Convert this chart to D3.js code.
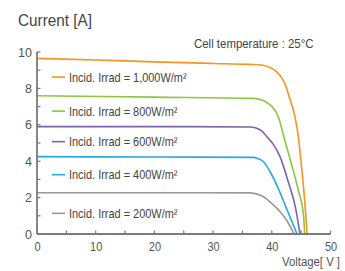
<!DOCTYPE html>
<html><head><meta charset="utf-8">
<script src="https://cdn.jsdelivr.net/npm/d3@7"></script>
<style>
html,body{margin:0;padding:0;background:#fff;}
svg{display:block;}
text{font-family:"Liberation Sans","Arial",sans-serif;}
</style></head>
<body>
<script>
// ---- data ----
const seriesNames = ["Incid. Irrad = 1,000W/m²","Incid. Irrad = 800W/m²","Incid. Irrad = 600W/m²","Incid. Irrad = 400W/m²","Incid. Irrad = 200W/m²"];
const seriesColors = ["#f7941d","#8dc63f","#7f63a8","#27a9e1","#999999"];
const v1000 = [0, 10, 20, 30, 36, 38.5, 39.8, 40.8, 41.6, 42.2, 43.1, 43.9, 44.5, 45.0, 45.4, 45.75, 46.0];
const i1000 = [9.65, 9.56, 9.46, 9.37, 9.32, 9.27, 9.13, 8.92, 8.62, 8.28, 7.4, 6.5, 5.4, 3.9, 2.6, 1.2, 0];
const v800 = [0, 20, 36.8, 38.3, 39.1, 39.9, 41.1, 42.2, 43.4, 44.5, 45.4, 45.6];
const i800 = [7.6, 7.52, 7.45, 7.36, 7.24, 7.04, 6.45, 5.16, 3.79, 2.42, 1.04, 0];
const v600 = [0, 20, 36.3, 37.3, 38.2, 39.4, 40.2, 41.4, 42.8, 44.0, 44.8];
const i600 = [5.9, 5.9, 5.88, 5.82, 5.68, 5.26, 4.95, 4.25, 2.87, 1.5, 0];
const v400 = [0, 20, 36.9, 37.8, 38.6, 39.7, 41.1, 42.5, 44.3];
const i400 = [4.25, 4.23, 4.21, 4.12, 3.97, 3.42, 2.51, 1.41, 0];
const v200 = [0, 20, 36.3, 37.2, 38.0, 39.7, 41.4, 42.5, 43.8];
const i200 = [2.27, 2.27, 2.26, 2.22, 2.14, 1.77, 1.23, 0.77, 0];
const xTicks = [0, 10, 20, 30, 40, 50];
const xMinorTicks = [5, 15, 25, 35, 45];
const yTicks = [0, 2, 4, 6, 8, 10];
const yMinorTicks = [1, 3, 5, 7, 9];

const volts = [v1000, v800, v600, v400, v200];
const amps = [i1000, i800, i600, i400, i200];
const series = seriesNames.map((name, k) => ({
  name, color: seriesColors[k],
  pts: volts[k].map((v, j) => ({v, i: amps[k][j]}))
}));

// ---- layout ----
const W = 345, H = 271;
const svg = d3.select("body").append("svg").attr("width", W).attr("height", H);
const x = d3.scaleLinear().domain([0, 50]).range([37, 330.5]);
const y = d3.scaleLinear().domain([0, 10]).range([234, 52]);
const axisColor = "#7a7a7a";
const textColor = "#555";

// condensed text: the reference uses a narrow face, so scale glyphs horizontally
function label(parent, px, py, f, anchor, size, fill, str) {
  return parent.append("g").attr("transform", `translate(${px},${py}) scale(${f},1)`)
    .append("text").attr("text-anchor", anchor).attr("font-size", size).attr("fill", fill).text(str);
}

// titles
label(svg, 18, 26, 0.9, "start", 17, "#444", "Current [A]");
label(svg, 194, 48, 0.915, "start", 12.5, "#444", "Cell temperature : 25°C");
label(svg, 340, 266, 0.84, "end", 13.5, "#555", "Voltage[ V ]");

// curves
const line = d3.line().x(d => x(d.v)).y(d => y(d.i)).curve(d3.curveMonotoneX);
svg.append("g").selectAll("path").data(series).join("path")
  .attr("d", d => line(d.pts)).attr("fill", "none")
  .attr("stroke", d => d.color).attr("stroke-width", 1.6);

// axes
const gx = svg.append("g").attr("transform", `translate(0,${y(0)})`)
  .call(d3.axisBottom(x).tickValues(xTicks).tickSize(0).tickPadding(8).tickFormat(d3.format("d")));
gx.select(".domain").remove();
gx.selectAll("text").attr("font-size", 12.5).attr("fill", textColor).attr("font-family", '"Liberation Sans",sans-serif')
  .attr("transform", "scale(0.88,1)");
svg.append("g").selectAll("line").data(xTicks.concat(xMinorTicks)).join("line")
  .attr("x1", d => x(d)).attr("x2", d => x(d)).attr("y1", y(0)).attr("y2", y(0) - 3.5)
  .attr("stroke", axisColor).attr("stroke-width", 1.2);

const gy = svg.append("g").attr("transform", `translate(${x(0)},0)`)
  .call(d3.axisLeft(y).tickValues(yTicks).tickSize(0).tickPadding(5).tickFormat(d3.format("d")));
gy.select(".domain").remove();
gy.selectAll("text").attr("font-size", 12.5).attr("fill", textColor).attr("font-family", '"Liberation Sans",sans-serif');
svg.append("g").selectAll("line").data(yTicks.concat(yMinorTicks)).join("line")
  .attr("x1", x(0)).attr("x2", x(0) + 3.5).attr("y1", d => y(d)).attr("y2", d => y(d))
  .attr("stroke", axisColor).attr("stroke-width", 1.2);

svg.append("line").attr("x1", x(0)).attr("x2", x(50)).attr("y1", y(0)).attr("y2", y(0)).attr("stroke", axisColor).attr("stroke-width", 1.8);
svg.append("line").attr("x1", x(0)).attr("x2", x(0)).attr("y1", y(0)).attr("y2", y(10)).attr("stroke", axisColor).attr("stroke-width", 1.8);

// legend: each label sits midway between its curve's Isc and the next one down
const legend = svg.append("g").selectAll("g").data(series).join("g")
  .attr("transform", (d, k) => {
    const next = k + 1 < series.length ? series[k + 1].pts[0].i : 0;
    return `translate(0,${y((d.pts[0].i + next) / 2)})`;
  });
legend.append("line").attr("x1", 52).attr("x2", 65).attr("y1", 0).attr("y2", 0)
  .attr("stroke", d => d.color).attr("stroke-width", 1.6);
legend.each(function (d) { label(d3.select(this), 69, 4.5, 0.875, "start", 12.5, "#444", d.name); });
</script>
</body></html>
